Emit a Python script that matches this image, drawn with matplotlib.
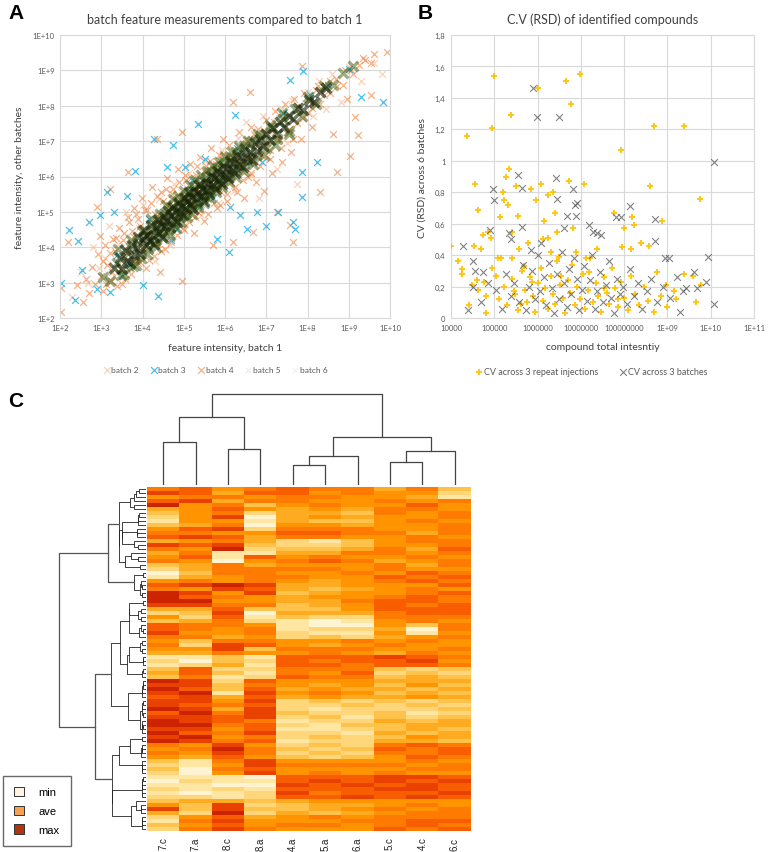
import numpy as np
import matplotlib
matplotlib.use('Agg')
import matplotlib.pyplot as plt
from matplotlib.colors import ListedColormap
from matplotlib.patches import Patch

plt.rcParams['font.family'] = ['Lato', 'DejaVu Sans']

# ---------------- panel A data (log10 intensities) ----------------
b2_x = [2.30, 2.50, 2.68, 2.80, 2.95, 3.08, 3.18, 3.30, 3.40, 3.52, 3.60, 3.72, 3.83, 3.92, 4.02, 4.10, 4.20,
        4.30, 4.40, 4.48, 4.58, 4.66, 4.76, 4.85, 4.93, 5.02, 5.12, 5.22, 5.32, 5.42, 5.52, 5.62, 5.72, 5.82,
        5.92, 6.02, 6.12, 6.22, 6.32, 6.42, 6.52, 6.62, 6.72, 6.82, 6.92, 7.02, 7.14, 7.26, 7.38, 7.50, 7.62,
        7.74, 7.86, 8.00, 8.14, 8.28, 8.45, 8.60, 8.80, 9.00, 9.30, 9.60, 9.80]
b2_y = [2.60, 3.30, 3.00, 4.00, 3.40, 3.70, 4.60, 3.20, 4.10, 3.65, 5.00, 4.20, 3.75, 4.55, 5.20, 4.10, 4.85,
        3.60, 5.35, 4.55, 5.10, 4.05, 5.80, 4.85, 5.55, 4.65, 6.10, 5.25, 5.80, 4.90, 6.45, 5.70, 6.20, 5.25,
        6.75, 5.90, 6.50, 5.60, 7.10, 6.35, 7.55, 6.05, 7.15, 5.40, 7.70, 6.55, 7.25, 6.20, 7.90, 6.95, 8.15,
        5.80, 7.65, 8.40, 7.70, 8.70, 7.90, 8.90, 8.10, 9.10, 8.70, 9.20, 8.90]

b3_x = [2.02, 2.22, 2.36, 2.43, 2.53, 2.71, 2.89, 2.97, 3.13, 3.21, 3.31, 3.37, 3.62, 3.70, 3.82, 4.02, 4.28,
        4.37, 4.59, 4.75, 4.83, 5.03, 5.34, 5.39, 5.52, 5.80, 6.09, 6.12, 6.24, 6.36, 6.53, 6.77, 7.00, 7.29,
        7.58, 7.64, 7.70, 7.86, 7.86, 7.88, 8.22, 9.30, 9.82, 3.50, 4.15, 4.70, 5.20, 5.70, 6.30, 6.90, 7.40,
        8.05, 8.50, 9.00]
b3_y = [3.00, 4.49, 2.50, 4.19, 3.37, 4.70, 2.83, 4.90, 5.56, 2.73, 4.99, 3.79, 5.46, 3.49, 6.15, 2.92, 7.06,
        2.61, 6.26, 6.88, 4.52, 6.26, 7.47, 5.18, 6.50, 4.24, 3.86, 5.13, 7.75, 4.90, 4.52, 5.00, 4.60, 5.00,
        8.74, 4.71, 4.52, 5.42, 6.12, 8.99, 6.40, 8.26, 8.12, 3.20, 4.80, 4.20, 5.90, 5.40, 6.80, 6.40, 7.80,
        8.30, 8.60, 9.05]

b4_x = [2.02, 2.02, 2.20, 2.40, 2.55, 2.62, 2.70, 2.78, 2.85, 2.89, 2.92, 2.97, 3.00, 3.05, 3.10, 3.15, 3.21,
        3.24, 3.29, 3.33, 3.38, 3.42, 3.47, 3.52, 3.58, 3.64, 3.66, 3.70, 3.75, 3.80, 3.85, 3.90, 3.94, 3.98,
        4.03, 4.08, 4.12, 4.17, 4.22, 4.27, 4.31, 4.36, 4.38, 4.42, 4.45, 4.50, 4.55, 4.60, 4.64, 4.70, 4.75,
        4.80, 4.85, 4.90, 4.95, 4.95, 5.00, 5.05, 5.10, 5.15, 5.20, 5.25, 5.30, 5.35, 5.40, 5.45, 5.50, 5.55,
        5.60, 5.65, 5.72, 5.75, 5.80, 5.85, 5.90, 5.95, 6.00, 6.05, 6.10, 6.15, 6.20, 6.20, 6.25, 6.30, 6.35,
        6.40, 6.45, 6.50, 6.55, 6.60, 6.62, 6.69, 6.70, 6.75, 6.80, 6.88, 6.95, 7.00, 7.08, 7.15, 7.22, 7.25,
        7.30, 7.38, 7.45, 7.52, 7.58, 7.60, 7.66, 7.68, 7.75, 7.85, 7.87, 7.92, 8.00, 8.10, 8.14, 8.20, 8.30,
        8.30, 8.42, 8.55, 8.63, 8.71, 8.70, 8.85, 8.95, 9.03, 9.05, 9.15, 9.22, 9.25, 9.40, 9.54, 9.60, 9.92,
        3.05, 3.12, 3.20, 3.27, 3.35, 3.44, 3.50, 3.56, 3.62, 3.68, 3.73, 3.79, 3.84, 3.88, 3.93, 3.99, 4.05,
        4.10, 4.15, 4.20, 4.25, 4.29, 4.34, 4.40, 4.44, 4.49, 4.54, 4.58, 4.63, 4.68, 4.72, 4.78, 4.83, 4.88,
        4.92, 4.97, 5.03, 5.08, 5.13, 5.18, 5.23, 5.28, 5.33, 5.38, 5.43, 5.49, 5.54, 5.58, 5.63, 5.69, 5.74,
        5.79, 5.84, 5.89, 5.94, 6.00, 6.06, 6.12, 6.18, 6.24, 6.31, 6.38, 6.44, 6.51, 6.58, 6.64, 6.71, 6.78,
        6.86, 6.94, 7.02, 7.10, 7.18, 7.27, 7.36, 7.46, 7.56, 7.66, 7.77, 7.88, 8.00, 8.12, 8.25, 8.40, 8.55,
        8.72, 8.90, 9.10, 9.35, 9.55]
b4_y = [2.17, 2.85, 4.15, 2.92, 2.45, 3.10, 2.70, 3.45, 2.95, 5.13, 3.80, 4.33, 3.20, 2.75, 4.05, 3.50, 5.65,
        3.05, 4.24, 3.90, 2.90, 4.55, 3.35, 4.20, 3.10, 6.12, 4.85, 3.40, 4.45, 5.10, 3.60, 4.80, 3.58, 5.40,
        4.00, 3.40, 5.05, 4.45, 5.70, 3.75, 4.95, 7.06, 4.10, 3.30, 5.55, 4.70, 3.95, 5.95, 5.20, 4.25, 5.65,
        4.60, 6.20, 5.35, 7.25, 3.06, 4.50, 5.90, 4.95, 6.35, 5.55, 4.40, 6.05, 5.00, 6.55, 5.75, 4.75, 6.30,
        5.35, 6.80, 4.05, 5.95, 5.10, 6.60, 5.55, 7.05, 6.25, 5.30, 6.90, 5.85, 8.10, 4.15, 6.50, 5.55, 7.25,
        6.15, 5.40, 6.95, 6.00, 8.38, 7.40, 4.43, 6.45, 5.85, 7.35, 6.60, 5.60, 7.60, 6.75, 6.10, 7.85, 4.99,
        7.05, 6.40, 8.05, 7.25, 4.62, 6.70, 4.15, 8.20, 7.50, 7.05, 9.13, 8.35, 7.80, 7.40, 8.10, 8.45, 5.56,
        8.05, 8.60, 8.35, 7.20, 6.12, 8.75, 8.60, 8.19, 6.59, 9.00, 7.68, 7.16, 9.15, 9.30, 8.29, 9.45, 9.51,
        3.60, 2.95, 3.85, 3.30, 4.25, 3.75, 2.95, 4.40, 3.90, 4.70, 3.25, 4.30, 4.95, 3.55, 4.60, 3.90, 5.05,
        4.35, 3.65, 5.25, 4.70, 4.05, 5.45, 4.85, 3.90, 5.30, 4.45, 5.65, 4.90, 4.15, 5.50, 5.00, 4.35, 5.85,
        5.15, 4.55, 6.05, 5.40, 4.70, 5.95, 5.20, 4.85, 6.30, 5.60, 5.05, 6.15, 5.45, 4.95, 6.45, 5.80, 5.25,
        6.35, 5.70, 5.20, 6.65, 5.95, 5.50, 6.60, 6.05, 5.70, 6.85, 6.45, 5.90, 7.05, 6.55, 6.10, 7.20, 6.85,
        6.30, 7.30, 6.95, 6.50, 7.55, 7.10, 6.80, 7.70, 7.35, 7.05, 8.00, 7.65, 8.20, 7.95, 8.55, 8.30, 8.70,
        8.55, 9.00, 8.90, 9.35, 9.20]

b5_x = [3.32, 3.45, 3.51, 3.58, 3.63, 3.70, 3.74, 3.80, 3.86, 3.90, 3.95, 4.01, 4.04, 4.08, 4.12, 4.17, 4.21,
        4.25, 4.28, 4.33, 4.37, 4.40, 4.44, 4.48, 4.52, 4.55, 4.59, 4.62, 4.66, 4.70, 4.73, 4.77, 4.81, 4.84,
        4.88, 4.91, 4.95, 4.98, 5.02, 5.05, 5.09, 5.12, 5.16, 5.19, 5.23, 5.26, 5.30, 5.34, 5.37, 5.41, 5.44,
        5.48, 5.52, 5.55, 5.59, 5.62, 5.66, 5.70, 5.73, 5.77, 5.81, 5.84, 5.88, 5.92, 5.96, 6.00, 6.04, 6.08,
        6.12, 6.16, 6.20, 6.25, 6.30, 6.34, 6.39, 6.44, 6.49, 6.54, 6.60, 6.66, 6.72, 6.78, 6.85, 6.92, 7.00,
        7.08, 7.16, 7.25, 7.34, 7.44, 7.55, 7.66, 7.78, 7.90, 8.03, 8.16, 8.30, 8.45]
b5_y = [3.41, 3.70, 3.38, 3.92, 3.60, 3.55, 4.05, 3.79, 3.98, 4.30, 3.82, 4.22, 4.48, 4.05, 4.36, 4.19, 4.62,
        4.33, 4.10, 4.55, 4.78, 4.41, 4.63, 4.30, 4.86, 4.60, 4.75, 5.02, 4.58, 4.90, 5.15, 4.81, 5.03, 4.72,
        5.25, 5.00, 5.18, 4.90, 5.40, 5.12, 5.30, 5.55, 5.21, 5.43, 5.08, 5.60, 5.35, 5.52, 5.75, 5.44, 5.66,
        5.30, 5.85, 5.62, 5.79, 5.50, 6.02, 5.76, 5.95, 5.66, 6.15, 5.90, 6.08, 5.80, 6.30, 6.05, 6.22, 5.95,
        6.45, 6.20, 6.38, 6.10, 6.60, 6.35, 6.55, 6.28, 6.78, 6.52, 6.70, 6.48, 6.95, 6.72, 7.05, 6.85, 7.20,
        7.02, 7.38, 7.20, 7.55, 7.40, 7.72, 7.62, 7.95, 7.88, 8.15, 8.12, 8.40, 8.50]

b6_x = [3.05, 3.22, 3.38, 3.49, 3.66, 3.77, 3.88, 3.97, 4.06, 4.14, 4.23, 4.30, 4.39, 4.46, 4.53, 4.61, 4.68,
        4.75, 4.83, 4.90, 4.97, 5.04, 5.11, 5.18, 5.25, 5.32, 5.39, 5.46, 5.53, 5.60, 5.67, 5.74, 5.81, 5.88,
        5.95, 6.03, 6.11, 6.19, 6.27, 6.36, 6.45, 6.55, 6.65, 6.76, 6.88, 7.00, 7.12, 7.26, 7.40, 7.55, 7.70,
        7.86, 8.02, 8.20, 8.40, 8.62, 8.85, 9.10,
        3.40, 3.55, 3.72, 3.85, 3.98, 4.10, 4.20, 4.32, 4.42, 4.50, 4.58, 4.66, 4.74, 4.80, 4.87, 4.94, 5.00,
        5.07, 5.14, 5.21, 5.28, 5.35, 5.42, 5.50, 5.57, 5.64, 5.71, 5.78, 5.86, 5.93, 6.01, 6.09, 6.17, 6.26,
        6.35, 6.45, 6.56, 6.68, 6.80, 6.94, 7.08, 7.22, 7.38, 7.55]
b6_y = [3.15, 3.05, 3.55, 3.21, 3.85, 3.48, 4.12, 3.70, 4.32, 3.95, 4.50, 4.20, 4.70, 4.45, 4.95, 4.50, 5.10,
        4.65, 5.28, 4.85, 5.38, 4.98, 5.50, 5.15, 5.70, 5.25, 5.82, 5.45, 5.95, 5.60, 6.12, 5.70, 6.25, 5.85,
        6.40, 6.00, 6.55, 6.15, 6.68, 6.30, 6.85, 6.45, 7.00, 6.60, 7.15, 6.80, 7.40, 7.05, 7.62, 7.30, 7.90,
        7.70, 8.25, 8.05, 8.55, 8.60, 8.92, 9.12,
        3.95, 3.25, 4.20, 3.50, 4.45, 3.80, 4.80, 4.00, 4.95, 4.25, 5.20, 4.35, 5.35, 4.55, 5.45, 4.70, 5.60,
        4.85, 5.75, 4.95, 5.90, 5.15, 6.05, 5.25, 6.15, 5.40, 6.30, 5.55, 6.40, 5.70, 6.55, 5.85, 6.70, 6.00,
        6.85, 6.15, 7.00, 6.35, 7.20, 6.60, 7.45, 6.90, 7.80, 7.20]

# ---------------- panel B data (log10 total intensity, CV) ----------------
inj_x = [4.00, 4.17, 4.25, 4.25, 4.37, 4.42, 4.48, 4.52, 4.55, 4.62, 4.62, 4.69, 4.75, 4.77, 4.81, 4.85, 4.92,
         4.94, 5.00, 5.04, 5.08, 5.14, 5.19, 5.23, 5.27, 5.31, 5.35, 5.38, 5.42, 5.42, 5.46, 5.50, 5.54, 5.58,
         5.62, 5.69, 5.77, 5.85, 5.88, 5.96, 6.00, 6.08, 6.12, 6.15, 6.23, 6.25, 6.31, 6.35, 6.40, 6.46, 6.50,
         6.54, 6.65, 6.72, 6.77, 6.81, 6.88, 6.98, 7.08, 7.12, 7.19, 7.38, 7.54, 7.77, 7.85, 7.92, 7.94, 8.00,
         8.17, 8.15, 8.23, 8.38, 8.58, 8.60, 8.68, 8.77, 8.88, 8.96, 9.15, 9.38, 9.38, 9.58, 9.65, 9.75, 9.77,
         5.10, 5.22, 5.30, 5.40, 5.48, 5.55, 5.63, 5.70, 5.76, 5.82, 5.90, 5.95, 6.02, 6.08, 6.12, 6.18, 6.24,
         6.30, 6.35, 6.40, 6.46, 6.52, 6.58, 6.63, 6.70, 6.75, 6.80, 6.86, 6.92, 6.98, 7.04, 7.10, 7.16, 7.22,
         7.28, 7.34, 7.40, 7.47, 7.53, 7.60, 7.66, 7.73, 7.80, 7.86, 7.93, 8.00, 8.08, 8.15, 8.25, 8.35, 8.45,
         8.55, 8.70, 8.85, 9.00, 9.20, 4.80, 4.60, 4.95, 5.15]
inj_cv = [0.46, 0.36, 0.31, 0.28, 1.16, 0.08, 0.21, 0.46, 0.85, 0.69, 0.18, 0.44, 0.53, 0.23, 0.03, 0.55, 0.51,
          1.21, 1.54, 0.27, 0.38, 0.64, 0.80, 0.75, 0.90, 0.72, 0.95, 1.29, 0.55, 0.38, 0.17, 0.84, 0.65, 0.44,
          0.09, 0.33, 0.48, 0.82, 0.23, 0.75, 1.46, 0.85, 0.50, 0.62, 0.78, 0.51, 0.42, 0.80, 0.67, 0.55, 0.39,
          0.27, 1.51, 0.87, 1.36, 0.57, 0.42, 1.55, 0.85, 0.38, 0.29, 0.44, 0.19, 0.67, 0.12, 1.07, 0.45, 0.57,
          0.64, 0.44, 0.59, 0.48, 0.46, 0.84, 1.22, 0.29, 0.62, 0.21, 0.17, 1.22, 0.28, 0.27, 0.10, 0.76, 0.21,
          0.12, 0.20, 0.08, 0.25, 0.15, 0.05, 0.30, 0.18, 0.10, 0.26, 0.14, 0.04, 0.22, 0.32, 0.11, 0.19, 0.06,
          0.27, 0.15, 0.09, 0.36, 0.21, 0.13, 0.03, 0.24, 0.16, 0.34, 0.08, 0.20, 0.12, 0.28, 0.06, 0.18, 0.38,
          0.10, 0.22, 0.14, 0.04, 0.26, 0.16, 0.09, 0.32, 0.19, 0.07, 0.23, 0.13, 0.05, 0.27, 0.15, 0.08, 0.20,
          0.11, 0.04, 0.14, 0.07, 0.12, 0.14, 0.24, 0.32, 0.38]

bat_x = [4.28, 4.50, 4.50, 4.75, 4.91, 4.96, 5.00, 5.35, 5.38, 5.54, 5.65, 5.63, 5.85, 5.90, 5.98, 6.08, 6.42,
         6.45, 6.50, 6.62, 6.68, 6.81, 6.86, 6.88, 6.92, 7.19, 7.27, 7.38, 7.46, 7.81, 7.92, 8.14, 8.71, 8.71,
         8.95, 9.04, 9.22, 9.35, 9.62, 9.88, 9.94, 10.08, 10.08, 9.42, 9.69, 9.29,
         5.05, 5.18, 5.28, 5.38, 5.46, 5.58, 5.66, 5.74, 5.80, 5.88, 5.94, 6.00, 6.06, 6.14, 6.20, 6.27, 6.33,
         6.38, 6.44, 6.50, 6.56, 6.62, 6.68, 6.73, 6.78, 6.84, 6.90, 6.96, 7.02, 7.08, 7.14, 7.20, 7.26, 7.32,
         7.38, 7.44, 7.50, 7.57, 7.64, 7.70, 7.77, 7.84, 7.91, 7.98, 8.06, 8.13, 8.22, 8.32, 8.42, 8.52, 8.62,
         8.75, 8.90, 9.05, 4.70, 4.85, 4.55, 4.40]
bat_cv = [0.46, 0.20, 0.36, 0.29, 0.56, 0.82, 0.75, 0.54, 0.50, 0.91, 0.83, 0.58, 0.43, 1.46, 1.28, 0.48, 0.89,
          0.76, 1.28, 0.57, 0.65, 0.82, 0.72, 0.65, 0.73, 0.59, 0.55, 0.54, 0.53, 0.64, 0.64, 0.71, 0.63, 0.49,
          0.38, 0.38, 0.26, 0.17, 0.29, 0.23, 0.39, 0.99, 0.09, 0.19, 0.19, 0.04,
          0.18, 0.06, 0.28, 0.14, 0.22, 0.10, 0.34, 0.05, 0.20, 0.30, 0.12, 0.40, 0.17, 0.26, 0.08, 0.35, 0.19,
          0.03, 0.28, 0.12, 0.42, 0.22, 0.07, 0.31, 0.15, 0.38, 0.25, 0.05, 0.18, 0.33, 0.11, 0.24, 0.40, 0.06,
          0.17, 0.29, 0.10, 0.21, 0.36, 0.13, 0.03, 0.25, 0.15, 0.20, 0.09, 0.31, 0.14, 0.22, 0.06, 0.17, 0.25,
          0.10, 0.20, 0.13, 0.10, 0.22, 0.30, 0.05]

# ---------------- panel C data ----------------
samples = ['7.c', '7.a', '8.c', '8.a', '4.a', '5.a', '6.a', '5.c', '4.c', '6.c']
# scaled feature levels 0 (min) .. 9 (max), rows in display order
heat_rows = [
    "6756766463", "8747756552", "5665665541", "7846655656", "9563565575", "4575454665", "3562443656",
    "2580454556", "1551433565", "3460554556", "5782666556", "6655776646", "7874665565", "4564213566",
    "8783223556", "6592334647", "4611446656", "5717565565", "6505676456", "3464555646", "2466665655",
    "0366556576", "1456655767", "5656545676", "7898445557", "6587434565", "9858345567", "9765455676",
    "9955446776", "8866345767", "4473335777", "2380444677", "5271322666", "3462101565", "7665100536",
    "7656122406", "8556211515", "6645232456", "5366556565", "6287545655", "5583666556", "4465565465",
    "1131777876", "2032767785", "1241776776", "3722666323", "4731657232", "3612766343", "9827555444",
    "8836545353", "9737454434", "8918565343", "7847454454", "8858232323", "8767223232", "9848212223",
    "7968322312", "8878231323", "9876122434", "9967213344", "8857112343", "9768221434", "8956232354",
    "9867122443", "6585232676", "5696323767", "6586232667", "5475323576", "3168555565", "2158666656",
    "3067555566", "2058565655", "1110777887", "0211787878", "1100878787", "2121777887", "1012867778",
    "2212778787", "3443455555", "5382344565", "8383345656", "4292434566", "2574565666", "1685556677",
    "3575665676", "2686555767",
]
# column dendrogram: (left id, right id, height); leaves 0-9, new nodes 10..
col_merges = [(0, 1, 43), (2, 3, 36), (10, 11, 68), (4, 5, 20), (13, 6, 29),
              (7, 8, 23), (15, 9, 34), (14, 16, 48), (12, 17, 91)]
# row dendrogram: top groups (row ranges) and their merge heights
row_groups = [(0, 21, 27), (21, 28, 12), (28, 62, 35), (62, 86, 34)]
row_top = [(0, 1, 38), (2, 3, 50), (4, 5, 86)]

heat_colors = ['#FFF4D2', '#FFE6A2', '#FFD679', '#FFC24B', '#FFAB22',
               '#FF9400', '#FF7A00', '#F85D00', '#E84100', '#CC2400']

fig = plt.figure(figsize=(7.68, 8.53), dpi=100)
W, H = 768, 853


def box(l, t, r, b):
    return [l / W, 1 - b / H, (r - l) / W, (b - t) / H]


def excel_axes(ax):
    for s in ax.spines.values():
        s.set_color('#D9D9D9')
    ax.grid(True, color='#D9D9D9', lw=0.8)
    ax.set_axisbelow(True)
    ax.tick_params(length=0, labelsize=5.5, labelcolor='#595959', pad=4)
    ax.minorticks_off()


# ---------- A ----------
axA = fig.add_axes(box(60, 36, 390, 319))
mk = dict(marker='x', s=24, linewidths=0.9)
axA.scatter(10 ** np.array(b2_x), 10 ** np.array(b2_y), color='#F4B183', alpha=0.55, label='batch 2', **mk)
axA.scatter(10 ** np.array(b4_x), 10 ** np.array(b4_y), color='#EE7F3A', alpha=0.6, label='batch 4', **mk)
axA.scatter(10 ** np.array(b3_x), 10 ** np.array(b3_y), color='#1CB0E4', alpha=0.8, label='batch 3', **mk)
axA.scatter(10 ** np.array(b6_x), 10 ** np.array(b6_y), color='#3F5F12', alpha=0.5, marker='x', s=50,
            linewidths=2.4, label='batch 6')
axA.scatter(10 ** np.array(b5_x), 10 ** np.array(b5_y), color='#142205', alpha=0.6, marker='x', s=50,
            linewidths=2.4, label='batch 5')
axA.set_xscale('log')
axA.set_yscale('log')
axA.set_xlim(1e2, 1e10)
axA.set_ylim(1e2, 1e10)
dec = [10.0 ** k for k in range(2, 11)]
axA.set_xticks(dec)
axA.set_xticklabels(['1E+%d' % k for k in range(2, 11)])
axA.set_yticks(dec)
axA.set_yticklabels(['1E+%d' % k for k in range(2, 11)])
excel_axes(axA)
axA.set_title('batch feature measurements compared to batch 1', fontsize=9, color='#404040', pad=9)
axA.set_xlabel('feature intensity, batch 1', fontsize=7.5, color='#404040', labelpad=9)
axA.set_ylabel('feature intensity, other batches', fontsize=7.5, color='#404040', labelpad=6)
hA, lA = axA.get_legend_handles_labels()
order = ['batch 2', 'batch 3', 'batch 4', 'batch 5', 'batch 6']
hA = [hA[lA.index(n)] for n in order]
legA = fig.legend(hA, order, loc='center', bbox_to_anchor=(215 / W, 1 - 371 / H), ncol=5, frameon=False,
                  fontsize=6, handletextpad=0.05, columnspacing=1.3, handlelength=1.0, labelcolor='#595959')
for h in legA.legend_handles[3:]:
    h.set_alpha(0.08)
    h.set_sizes([15])
    h.set_linewidths([0.8])

# ---------- B ----------
axB = fig.add_axes(box(451, 36, 754, 319))
axB.scatter(10 ** np.array(inj_x), inj_cv, marker='+', s=22, linewidths=1.4, color='#FFC000', alpha=0.9,
            label='CV across 3 repeat injections', zorder=3)
axB.scatter(10 ** np.array(bat_x), bat_cv, marker='x', s=24, linewidths=0.8, color='#4D4D4D', alpha=0.7,
            label='CV across 3 batches', zorder=4)
axB.set_xscale('log')
axB.set_xlim(1e4, 1e11)
axB.set_ylim(0, 1.8)
axB.set_xticks([10.0 ** k for k in range(4, 12)])
axB.set_xticklabels(['10000', '100000', '1000000', '10000000', '100000000', '1E+09', '1E+10', '1E+11'])
yt = [0, 0.2, 0.4, 0.6, 0.8, 1.0, 1.2, 1.4, 1.6, 1.8]
axB.set_yticks(yt)
axB.set_yticklabels(['0', '0,2', '0,4', '0,6', '0,8', '1', '1,2', '1,4', '1,6', '1,8'])
excel_axes(axB)
axB.set_title('C.V (RSD) of identified compounds', fontsize=9, color='#404040', pad=9)
axB.set_xlabel('compound total intesntiy', fontsize=7.5, color='#404040', labelpad=8)
axB.set_ylabel('CV (RSD) across 6 batches', fontsize=7.5, color='#404040', labelpad=6)
fig.legend(*axB.get_legend_handles_labels(), loc='center', bbox_to_anchor=(591 / W, 1 - 373 / H), ncol=2,
           frameon=False, fontsize=6.5, handletextpad=0.05, columnspacing=2.2, handlelength=1.0,
           labelcolor='#595959')

# ---------- C ----------
mat = np.array([[int(c) for c in r] for r in heat_rows])
nrow = mat.shape[0]
axH = fig.add_axes(box(147, 488, 471, 832))
axH.imshow(mat, cmap=ListedColormap(heat_colors), vmin=-0.5, vmax=9.5, aspect='auto', interpolation='nearest')
axH.set_xticks(range(len(samples)))
axH.set_xticklabels(samples, rotation=90, fontsize=7, family=['Liberation Sans', 'DejaVu Sans'], color='#222222')
axH.set_yticks([])
axH.tick_params(length=0, pad=4)
for s in axH.spines.values():
    s.set_visible(False)

# column dendrogram
axT = fig.add_axes(box(147, 393, 471, 486))
pos = {i: float(i) for i in range(len(samples))}
hgt = {i: 0.0 for i in range(len(samples))}
for k, (a, b, h) in enumerate(col_merges):
    axT.plot([pos[a], pos[a], pos[b], pos[b]], [hgt[a], h, h, hgt[b]], color='#444444', lw=0.9)
    nid = len(samples) + k
    pos[nid] = (pos[a] + pos[b]) / 2
    hgt[nid] = h
axT.set_xlim(-0.5, len(samples) - 0.5)
axT.set_ylim(0, 93)
axT.axis('off')


# row dendrogram: adjacency constrained ward clustering inside each group
def group_tree(lo, hi, top):
    nodes = [(float(i), 0.0, mat[i].astype(float), 1) for i in range(lo, hi)]
    segs = []
    while len(nodes) > 1:
        best = None
        for k in range(len(nodes) - 1):
            p1, h1, m1, n1 = nodes[k]
            p2, h2, m2, n2 = nodes[k + 1]
            d = np.sqrt(2.0 * n1 * n2 / (n1 + n2)) * np.linalg.norm(m1 - m2)
            if best is None or d < best[0]:
                best = (d, k)
        d, k = best
        p1, h1, m1, n1 = nodes[k]
        p2, h2, m2, n2 = nodes[k + 1]
        h = max(d, h1, h2)
        segs.append((p1, h1, p2, h2, h))
        nodes[k:k + 2] = [((p1 + p2) / 2, h, (n1 * m1 + n2 * m2) / (n1 + n2), n1 + n2)]
    sc = top / nodes[0][1]
    segs = [(p1, h1 * sc, p2, h2 * sc, h * sc) for p1, h1, p2, h2, h in segs]
    return nodes[0][0], top, segs


axL = fig.add_axes(box(57, 488, 146, 832))
tops = []
for lo, hi, top in row_groups:
    p, h, segs = group_tree(lo, hi, top)
    tops.append((p, h))
    for p1, h1, p2, h2, hh in segs:
        axL.plot([h1, hh, hh, h2], [p1, p1, p2, p2], color='#222222', lw=0.6)
for a, b, h in row_top:
    (p1, h1), (p2, h2) = tops[a], tops[b]
    axL.plot([h1, h, h, h2], [p1, p1, p2, p2], color='#555555', lw=0.9)
    tops.append(((p1 + p2) / 2, h))
axL.set_xlim(88, 0)
axL.set_ylim(nrow - 0.5, -0.5)
axL.axis('off')

fig.legend([Patch(facecolor='#FFF3E6', edgecolor='#333333', lw=0.7),
            Patch(facecolor='#F8A050', edgecolor='#333333', lw=0.7),
            Patch(facecolor='#B03410', edgecolor='#333333', lw=0.7)],
           ['min', 'ave', 'max'], loc='lower left', bbox_to_anchor=(3 / W, 1 - 847 / H), borderaxespad=0,
           frameon=True, fancybox=False, edgecolor='#444444', handlelength=0.9,
           handleheight=0.9, borderpad=1.0, labelspacing=0.75, handletextpad=1.3,
           prop={'family': ['Liberation Sans', 'DejaVu Sans'], 'size': 8})

# panel letters
for x, y, t in [(8, 4, 'A'), (418, 4, 'B'), (8, 392, 'C')]:
    fig.text(x / W, 1 - y / H, t, fontsize=15, fontweight='bold', va='top', ha='left',
             family=['Liberation Sans', 'DejaVu Sans'])

fig.savefig('out.png', dpi=100)
